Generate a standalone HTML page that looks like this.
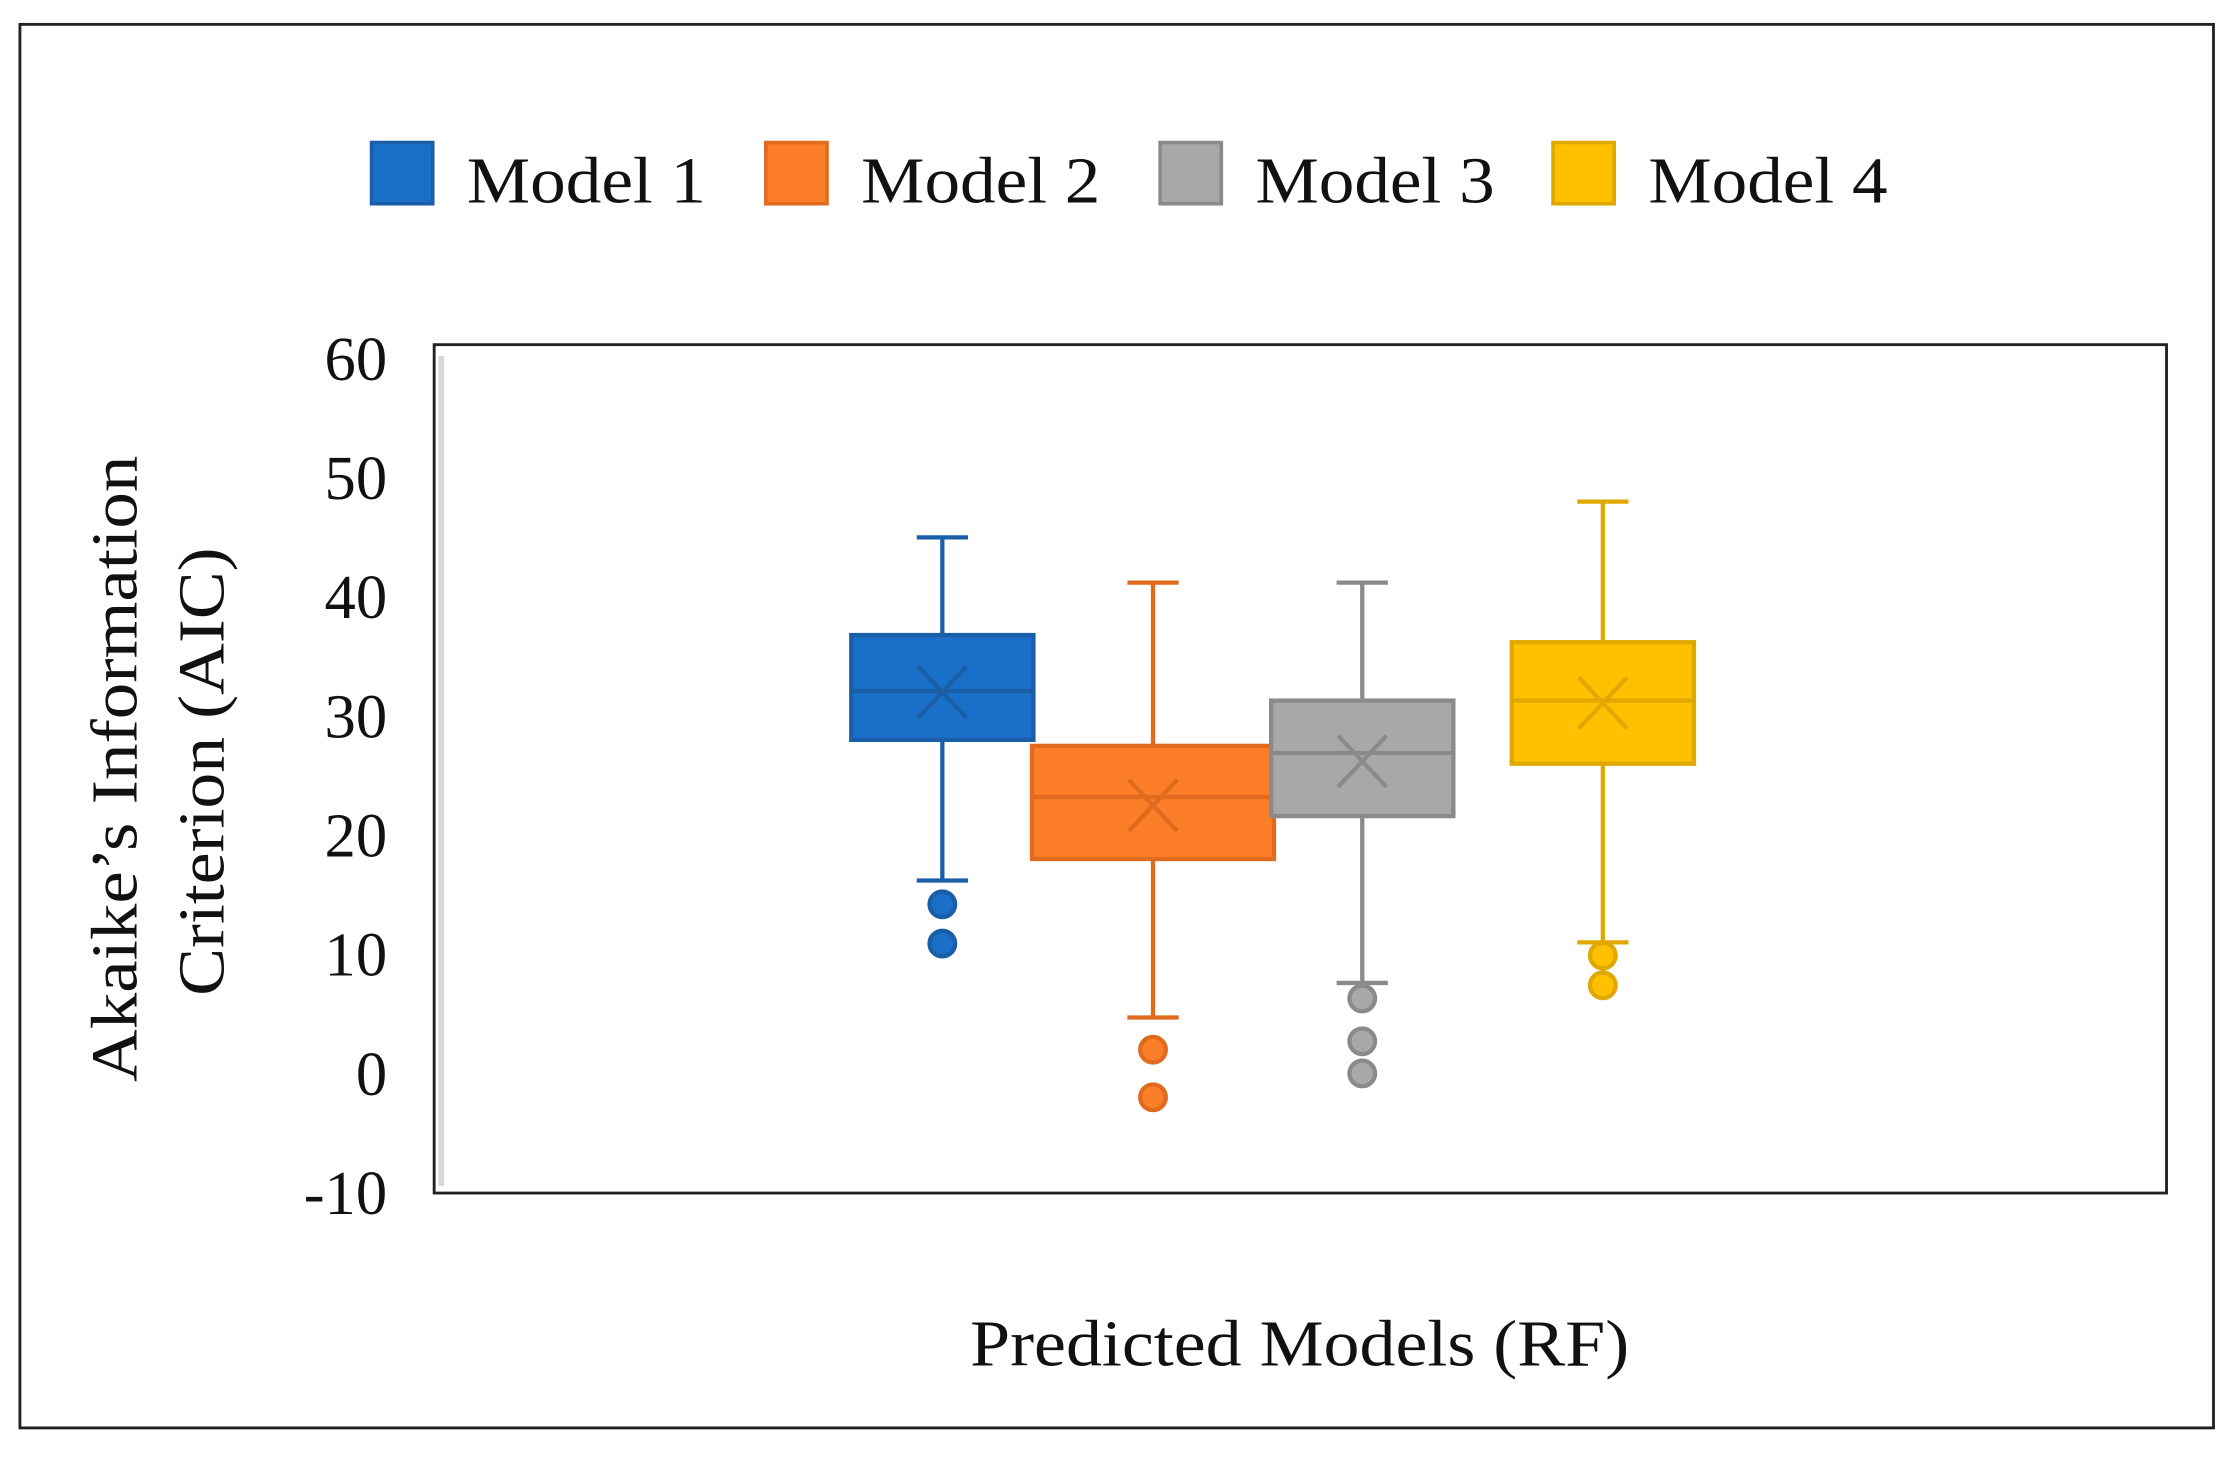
<!DOCTYPE html>
<html><head><meta charset="utf-8"><style>
html,body{margin:0;padding:0;background:#fff;}
svg{display:block;}
text{font-family:"Liberation Serif",serif;fill:#111;}
</style></head><body>
<svg id="chart" width="2232" height="1458" viewBox="0 0 1568 1024" xmlns="http://www.w3.org/2000/svg">
<rect x="14" y="17" width="1541" height="986" fill="#fff" stroke="#222" stroke-width="2"/>
<g id="legend"></g>
<rect x="305" y="242" width="1217" height="596" fill="#fff" stroke="#222" stroke-width="2"/>
<line x1="310" y1="250" x2="310" y2="833" stroke="#d8d8d8" stroke-width="4"/>
<g id="yticks"></g>
<text transform="translate(96,540) rotate(-90)" text-anchor="middle" font-size="46" textLength="440" lengthAdjust="spacingAndGlyphs">Akaike’s Information</text>
<text transform="translate(157,542) rotate(-90)" text-anchor="middle" font-size="46" textLength="315" lengthAdjust="spacingAndGlyphs">Criterion (AIC)</text>
<text x="913" y="959" text-anchor="middle" font-size="46" textLength="463" lengthAdjust="spacingAndGlyphs">Predicted Models (RF)</text>
<g id="boxes"></g>
</svg>
<script>
const models = ["Model 1","Model 2","Model 3","Model 4"];
const mins = [16.2, 4.7, 7.6, 11];
const q1s = [28.0, 18.0, 21.6, 26.0];
const medians = [32.1, 23.2, 26.9, 31.3];
const means = [32.0, 22.5, 26.2, 31.1];
const q3s = [36.8, 27.5, 31.3, 36.2];
const maxs = [45, 41.2, 41.2, 48];
const outliers = [[14.2, 10.9], [2.0, -2.0], [6.3, 2.7, 0], [9.9, 7.4]];
const yTicks = [60, 50, 40, 30, 20, 10, 0, -10];

const fills = ["#1a70c8","#fd7e28","#a8a8a8","#ffc000"];
const strokes = ["#1a5ea8","#e06a1e","#8a8a8a","#e0a800"];
const centers = [662, 810, 957, 1126];
const widths = [128, 170, 128, 128];
const NS = "http://www.w3.org/2000/svg";
function y(v){ return 754 - v * 8.37; }
function mk(tag, attrs, parent){
  const e = document.createElementNS(NS, tag);
  for (const k in attrs) e.setAttribute(k, attrs[k]);
  parent.appendChild(e); return e;
}
const yt = document.getElementById("yticks");
yTicks.forEach(t => {
  const e = mk("text", {x: 272, y: y(t) + 15, "text-anchor": "end", "font-size": 44}, yt);
  
  
  e.textContent = t;
});
const lg = document.getElementById("legend");
const lx = [261, 538, 815, 1091];
models.forEach((m, i) => {
  const r = mk("rect", {x: lx[i], y: 100, width: 43, height: 43, fill: fills[i], stroke: strokes[i], "stroke-width": 2.5}, lg);
  
  
  const t = mk("text", {x: lx[i] + 67, y: 142, "font-size": 46, textLength: 168, lengthAdjust: "spacingAndGlyphs"}, lg);
  
  
  t.textContent = m;
});
const bx = document.getElementById("boxes");
models.forEach((m, i) => {
  const g = mk("g", {stroke: strokes[i], "stroke-width": 3, fill: "none"}, bx);
  
  
  const cx = centers[i], w = widths[i], cap = 36;
  mk("line", {x1: cx, y1: y(maxs[i]), x2: cx, y2: y(q3s[i])}, g);
  mk("line", {x1: cx, y1: y(q1s[i]), x2: cx, y2: y(mins[i])}, g);
  mk("line", {x1: cx - cap/2, y1: y(maxs[i]), x2: cx + cap/2, y2: y(maxs[i])}, g);
  mk("line", {x1: cx - cap/2, y1: y(mins[i]), x2: cx + cap/2, y2: y(mins[i])}, g);
  mk("rect", {x: cx - w/2, y: y(q3s[i]), width: w, height: y(q1s[i]) - y(q3s[i]), fill: fills[i]}, g);
  mk("line", {x1: cx - w/2, y1: y(medians[i]), x2: cx + w/2, y2: y(medians[i])}, g);
  const my = y(means[i]);
  mk("line", {x1: cx - 17, y1: my - 18, x2: cx + 17, y2: my + 18}, g);
  mk("line", {x1: cx - 17, y1: my + 18, x2: cx + 17, y2: my - 18}, g);
  outliers[i].forEach(o => {
    const c = mk("circle", {cx: cx, cy: y(o), r: 9, fill: fills[i]}, g);
    
    
  });
});
</script>
</body></html>
